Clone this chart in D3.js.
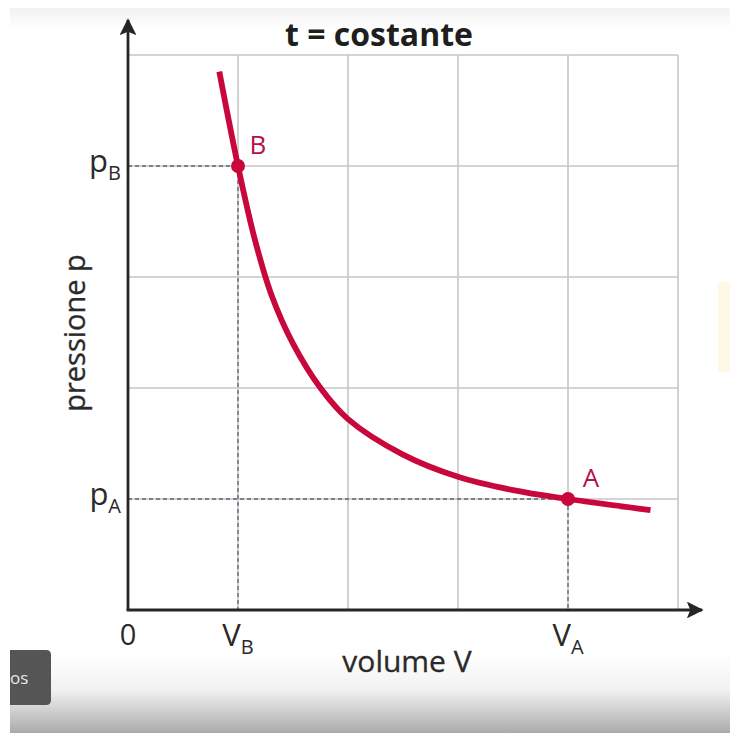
<!DOCTYPE html>
<html>
<head>
<meta charset="utf-8">
<script src="https://cdn.jsdelivr.net/npm/d3@7"></script>
<style>
  html, body { margin: 0; padding: 0; background: #ffffff; }
  svg { display: block; }
  text { font-family: "Open Sans", "Noto Sans", sans-serif; }
</style>
</head>
<body>
<div id="chart"></div>
<script>
// Isotherm of an ideal gas: pressure against volume at constant temperature
const curveV = [0.83, 1.0, 1.15, 1.3, 1.5, 1.75, 2.0, 2.5, 3.0, 3.5, 4.0, 4.75];
const curveP = [4.85, 4.0, 3.35, 2.85, 2.4, 2.0, 1.72, 1.4, 1.2, 1.08, 1.0, 0.9];

// Marked states
const stateNames = ["B", "A"];
const stateV = [1, 4];
const stateP = [4, 1];

// Grid divisions (5 x 5)
const gridTicks = [0, 1, 2, 3, 4, 5];

const W = 730, H = 733;
const x0 = 128, y0 = 610, cellX = 110, cellY = 111;

const svg = d3.select("#chart").append("svg")
  .attr("width", W).attr("height", H);

// page backdrop: light band on top, darker fade at the bottom
const defs = svg.append("defs");
const gTop = defs.append("linearGradient").attr("id", "topfade")
  .attr("x1", 0).attr("y1", 0).attr("x2", 0).attr("y2", 1);
gTop.append("stop").attr("offset", 0).attr("stop-color", "#f2f2f2");
gTop.append("stop").attr("offset", 1).attr("stop-color", "#ffffff");
const gBot = defs.append("linearGradient").attr("id", "botfade")
  .attr("x1", 0).attr("y1", 0).attr("x2", 0).attr("y2", 1);
gBot.append("stop").attr("offset", 0).attr("stop-color", "#ffffff");
gBot.append("stop").attr("offset", 0.45).attr("stop-color", "#f1f1f1");
gBot.append("stop").attr("offset", 1).attr("stop-color", "#aaaaaa");

svg.append("rect").attr("x", 0).attr("y", 0).attr("width", W).attr("height", H).attr("fill", "#ffffff");
svg.append("rect").attr("x", 10).attr("y", 8).attr("width", W - 10).attr("height", 22).attr("fill", "url(#topfade)");
svg.append("rect").attr("x", 10).attr("y", 655).attr("width", W - 10).attr("height", H - 655).attr("fill", "url(#botfade)");
// faint warm patch at the right edge
svg.append("rect").attr("x", 718).attr("y", 282).attr("width", 12).attr("height", 90)
  .attr("fill", "#fff6e0").attr("opacity", 0.8);

const x = d3.scaleLinear().domain([0, 5]).range([x0, x0 + 5 * cellX]);
const y = d3.scaleLinear().domain([0, 5]).range([y0, y0 - 5 * cellY]);

// grid
const grid = svg.append("g");
grid.selectAll("line.v").data(gridTicks.slice(1)).join("line")
  .attr("x1", d => x(d)).attr("x2", d => x(d))
  .attr("y1", y(0)).attr("y2", y(5))
  .attr("stroke", "#c6c6c6").attr("stroke-width", 1.6);
grid.selectAll("line.h").data(gridTicks.slice(1)).join("line")
  .attr("x1", x(0)).attr("x2", x(5))
  .attr("y1", d => y(d)).attr("y2", d => y(d))
  .attr("stroke", "#c6c6c6").attr("stroke-width", 1.6);

// dashed guides from the marked states to the axes
const guides = svg.append("g");
stateNames.forEach((n, i) => {
  guides.append("line")
    .attr("x1", x(0)).attr("x2", x(stateV[i]))
    .attr("y1", y(stateP[i])).attr("y2", y(stateP[i]))
    .attr("stroke", "#5b6470").attr("stroke-width", 1.3).attr("stroke-dasharray", "4,3");
  guides.append("line")
    .attr("x1", x(stateV[i])).attr("x2", x(stateV[i]))
    .attr("y1", y(stateP[i])).attr("y2", y(0))
    .attr("stroke", "#5b6470").attr("stroke-width", 1.3).attr("stroke-dasharray", "4,3");
});

// axes with arrows
const axisCol = "#262626";
defs.append("marker").attr("id", "arrow")
  .attr("viewBox", "0 0 10 10").attr("refX", 9).attr("refY", 5)
  .attr("markerWidth", 6).attr("markerHeight", 6)
  .attr("markerUnits", "strokeWidth").attr("orient", "auto")
  .append("path").attr("d", "M0,0 L10,5 L0,10 L2,5 Z").attr("fill", axisCol);

svg.append("line").attr("x1", x(0)).attr("y1", y(0)).attr("x2", x(0)).attr("y2", 20)
  .attr("stroke", axisCol).attr("stroke-width", 2.8).attr("marker-end", "url(#arrow)");
svg.append("line").attr("x1", x(0) - 1.4).attr("y1", y(0)).attr("x2", 702).attr("y2", y(0))
  .attr("stroke", axisCol).attr("stroke-width", 2.8).attr("marker-end", "url(#arrow)");

// isotherm
const pts = curveV.map((v, i) => [v, curveP[i]]);
const line = d3.line().x(d => x(d[0])).y(d => y(d[1])).curve(d3.curveCatmullRom.alpha(0.5));
const red = "#c8073c";
svg.append("path").attr("d", line(pts))
  .attr("fill", "none").attr("stroke", red).attr("stroke-width", 5.8)
  .attr("stroke-linecap", "butt");

// state points and their labels
svg.selectAll("circle.state").data(stateNames).join("circle")
  .attr("cx", (d, i) => x(stateV[i])).attr("cy", (d, i) => y(stateP[i]))
  .attr("r", 7).attr("fill", red);
svg.selectAll("text.state").data(stateNames).join("text")
  .attr("x", (d, i) => x(stateV[i]) + (i === 0 ? 20 : 23))
  .attr("y", (d, i) => y(stateP[i]) - 12)
  .attr("text-anchor", "middle")
  .attr("font-size", 26).attr("fill", "#b4104a")
  .text(d => d);

// title
svg.append("text").attr("x", 379).attr("y", 46).attr("text-anchor", "middle")
  .attr("font-size", 32).attr("font-weight", "bold").attr("fill", "#1e1e1e")
  .attr("letter-spacing", 0)
  .text("t = costante");

// axis titles
svg.append("text").attr("transform", `translate(85,${333}) rotate(-90)`)
  .attr("text-anchor", "middle").attr("font-size", 29).attr("fill", "#2a2a2a")
  .attr("stroke", "#2a2a2a").attr("stroke-width", 0.3)
  .text("pressione p");
svg.append("text").attr("x", 407).attr("y", 672).attr("text-anchor", "middle")
  .attr("font-size", 30).attr("fill", "#2a2a2a")
  .attr("stroke", "#2a2a2a").attr("stroke-width", 0.3)
  .text("volume V");

// value labels on the axes
const textCol = "#2a2a2a";
svg.append("text").attr("x", x(0)).attr("y", 645).attr("text-anchor", "middle")
  .attr("font-size", 29).attr("fill", textCol).text("0");

function subLabel(px, py, main, sub, anchorEnd) {
  const t = svg.append("text").attr("x", px).attr("y", py)
    .attr("text-anchor", anchorEnd ? "end" : "middle").attr("fill", textCol);
  t.append("tspan").attr("font-size", 31).text(main);
  t.append("tspan").attr("font-size", 20).attr("dy", 8).text(sub);
}
stateNames.forEach((n, i) => {
  subLabel(x(stateV[i]), 646, "V", n, false);
  subLabel(121, y(stateP[i]) + 6, "p", n, true);
});

// small dark button at the lower left
svg.append("path")
  .attr("d", "M10,650 H46 Q51,650 51,655 V700 Q51,705 46,705 H10 Z")
  .attr("fill", "#555555");
svg.append("text").attr("x", 10).attr("y", 684).attr("font-size", 17)
  .attr("fill", "#e8e8e8").text("os");
</script>
</body>
</html>
